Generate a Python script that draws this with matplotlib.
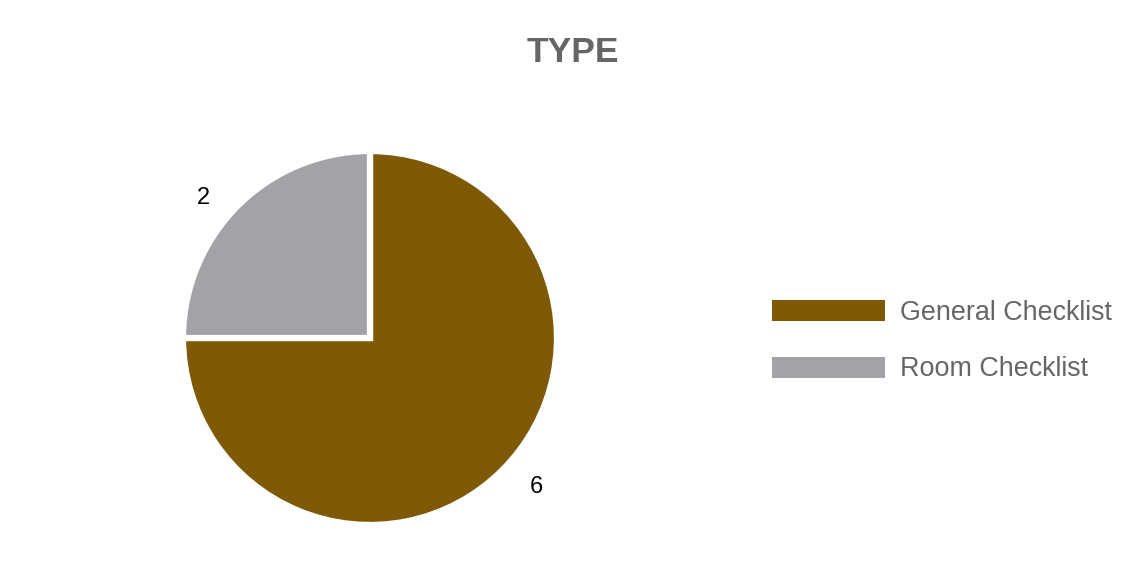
import matplotlib
matplotlib.use("Agg")
import matplotlib.pyplot as plt
import numpy as np

categories = ["General Checklist", "Room Checklist"]
counts = [6, 2]
colors = ["#7E5A06", "#A2A3A6"]

plt.rcParams["font.family"] = ["Liberation Sans", "DejaVu Sans"]

fig = plt.figure(figsize=(11.46, 5.73), dpi=100)
fig.text(0.5, 1 - 52 / 573, "TYPE", ha="center", va="center",
         fontsize=25.5, fontweight="bold", color="#666666")

# pie axes: center ~(370, 338) px, radius ~187 px incl. edge
r_px = 187
ax = fig.add_axes([(370 - r_px) / 1146, (573 - 338 - r_px) / 573,
                   2 * r_px / 1146, 2 * r_px / 573])
wedges, texts, autotexts = ax.pie(
    counts, colors=colors, startangle=90, counterclock=False,
    autopct=lambda p: f"{round(p * sum(counts) / 100)}", pctdistance=1.2,
    wedgeprops=dict(edgecolor="white", linewidth=4.5),
    textprops=dict(fontsize=17, color="black"))
ax.set_xlim(-1, 1)
ax.set_ylim(-1, 1)
ax.set_aspect("equal")
for w, t in zip(wedges, autotexts):
    w.set_clip_on(False)
    ang = np.deg2rad((w.theta1 + w.theta2) / 2 + 4)
    t.set_position((1.18 * np.cos(ang), 1.18 * np.sin(ang) - 0.025))

leg = fig.legend(wedges, categories, loc="center left",
                 bbox_to_anchor=(748 / 1146, 1 - 341 / 573),
                 frameon=False, fontsize=19.4, handlelength=4.2,
                 handleheight=0.82, handletextpad=0.55, labelspacing=1.15)
for t in leg.get_texts():
    t.set_color("#666666")
for h in leg.legend_handles:
    h.set_edgecolor("none")

fig.savefig("out.png", dpi=100)
